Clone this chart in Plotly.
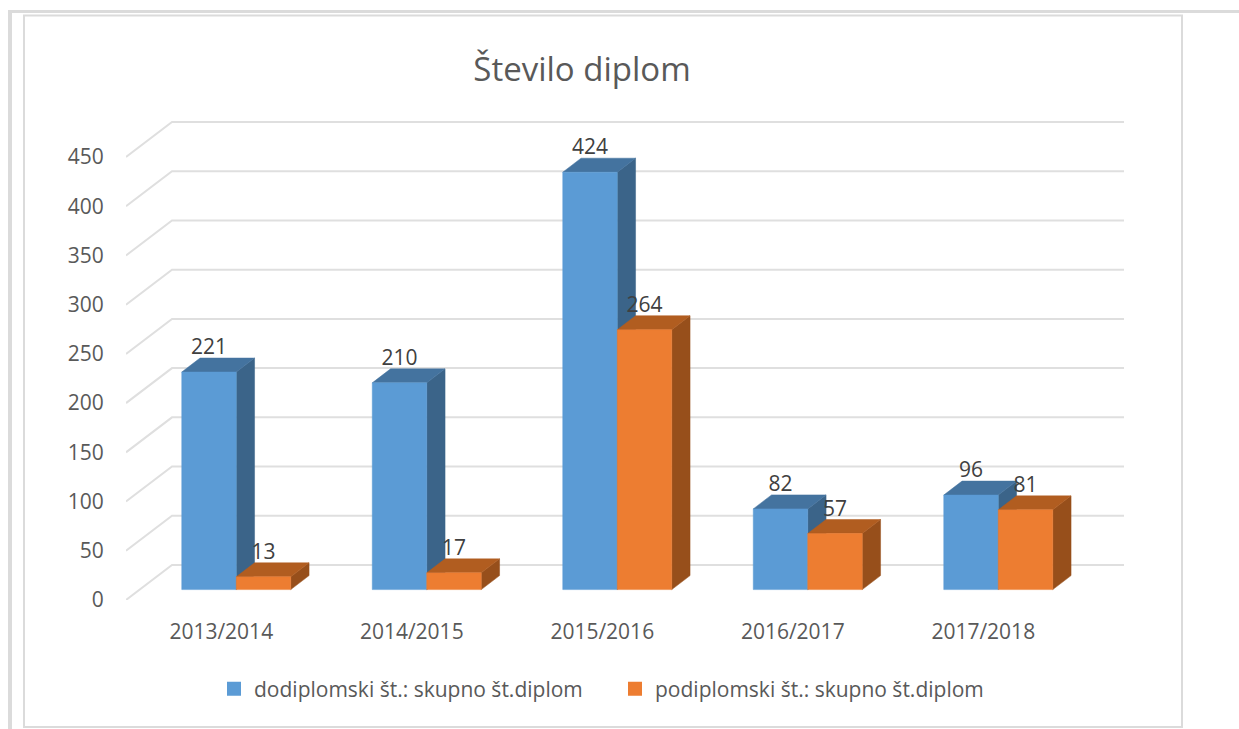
import plotly.graph_objects as go

categories = ["2013/2014", "2014/2015", "2015/2016", "2016/2017", "2017/2018"]
undergrad = [221, 210, 424, 82, 96]
postgrad = [13, 17, 264, 57, 81]
series_names = ["dodiplomski št.: skupno št.diplom", "podiplomski št.: skupno št.diplom"]
y_ticks = [0, 50, 100, 150, 200, 250, 300, 350, 400, 450]

W, H = 1239, 729
L, R, T, B = 126, 1130, 110, 600      # plot area in page pixels
CAT_PX = 190.5
VAL_PX = 443 / 450
XR = (-0.5, -0.5 + (R - L) / CAT_PX)
YR = (0, (B - T) / VAL_PX)

WALL_DX, WALL_DY = 46 / CAT_PX, 35 / VAL_PX
WALL_END = -0.5 + 998 / CAT_PX
BAR_W = 54.5 / CAT_PX
BAR_DX, BAR_DY = 18.3 / CAT_PX, 14 / VAL_PX
BASE_DX, BASE_DY = 15.0 / CAT_PX, 10.4 / VAL_PX
LABEL_UP = 23 / VAL_PX

BLUE = ("#5B9BD5", "#44739F", "#3B6489")
ORANGE = ("#ED7D31", "#B15D20", "#974F1B")
GRID = "#DFDFDF"
FRAME = "#DBDBDB"
TXT = "#595959"
FONT = "Open Sans"


def poly(xs, ys, color):
    return go.Scatter(x=xs + xs[:1], y=ys + ys[:1], mode="lines", fill="toself", fillcolor=color,
                      line=dict(color=color, width=0.5), showlegend=False, hoverinfo="skip")


def bar3d(i, slot, v, colors):
    x0 = i + BASE_DX + (slot - 1) * BAR_W
    x1 = x0 + BAR_W
    y0 = BASE_DY
    y1 = BASE_DY + v
    return [
        poly([x1, x1 + BAR_DX, x1 + BAR_DX, x1], [y0, y0 + BAR_DY, y1 + BAR_DY, y1], colors[2]),
        poly([x0, x1, x1 + BAR_DX, x0 + BAR_DX], [y1, y1, y1 + BAR_DY, y1 + BAR_DY], colors[1]),
        poly([x0, x1, x1, x0], [y0, y0, y1, y1], colors[0]),
    ]


fig = go.Figure()

# wall + floor gridlines
for v in y_ticks:
    fig.add_trace(go.Scatter(x=[-0.5, -0.5 + WALL_DX, WALL_END], y=[v, v + WALL_DY, v + WALL_DY],
                             mode="lines", line=dict(color=GRID, width=2), showlegend=False, hoverinfo="skip"))

# bars, back to front
for i in range(len(categories)):
    for t in bar3d(i, 0, undergrad[i], BLUE):
        fig.add_trace(t)
    for t in bar3d(i, 1, postgrad[i], ORANGE):
        fig.add_trace(t)

# data labels
for slot, vals in enumerate((undergrad, postgrad)):
    fig.add_trace(go.Scatter(
        x=[i + BASE_DX + (slot - 0.5) * BAR_W for i in range(len(vals))],
        y=[BASE_DY + v + LABEL_UP for v in vals],
        mode="text", text=[str(v) for v in vals], textposition="middle center",
        textfont=dict(family=FONT, size=21, color="#404040"), showlegend=False, hoverinfo="skip"))

# legend entries
for name, c in zip(series_names, (BLUE[0], ORANGE[0])):
    fig.add_trace(go.Scatter(x=[None], y=[None], mode="markers", name=name,
                             marker=dict(symbol="square", size=14, color=c)))


def px(x):
    return (x - L) / (R - L)


def py(y):
    return (B - y) / (B - T)


def frame(x0, y0, x1, y1, width=None):
    return dict(type="rect", xref="paper", yref="paper", x0=px(x0), x1=px(x1), y0=py(y0), y1=py(y1),
                line=dict(color=FRAME, width=width or 0), fillcolor=FRAME if width is None else "rgba(0,0,0,0)",
                layer="below")


shapes = [
    frame(8, 10, W, 13),
    frame(8, 10, 12, H),
    frame(24, 15.5, 1182, 727, 2),
]

fig.update_layout(
    width=W, height=H,
    margin=dict(l=L, r=W - R, t=T, b=H - B, pad=0),
    paper_bgcolor="white", plot_bgcolor="rgba(0,0,0,0)",
    showlegend=True,
    title=dict(text="Število diplom", x=582 / W, y=1 - 69 / H, xanchor="center", yanchor="middle",
               xref="container", yref="container",
               font=dict(family=FONT, size=33, color=TXT)),
    xaxis=dict(range=XR, tickvals=list(range(len(categories))), ticktext=categories,
               showgrid=False, zeroline=False, showline=False,
               ticks="outside", ticklen=13, tickcolor="rgba(0,0,0,0)",
               tickfont=dict(family=FONT, size=21, color=TXT)),
    yaxis=dict(range=YR, tickvals=y_ticks, showgrid=False, zeroline=False, showline=False,
               ticks="outside", ticklen=17, tickcolor="rgba(0,0,0,0)",
               tickfont=dict(family=FONT, size=21, color=TXT)),
    legend=dict(orientation="h", x=px(214), y=py(689), xanchor="left", yanchor="middle",
                entrywidth=356, entrywidthmode="pixels", bgcolor="rgba(0,0,0,0)",
                font=dict(family=FONT, size=21, color=TXT)),
    shapes=shapes,
)

fig.write_html("out.html", config={"displayModeBar": False}, post_script="document.body.style.margin='0';")
